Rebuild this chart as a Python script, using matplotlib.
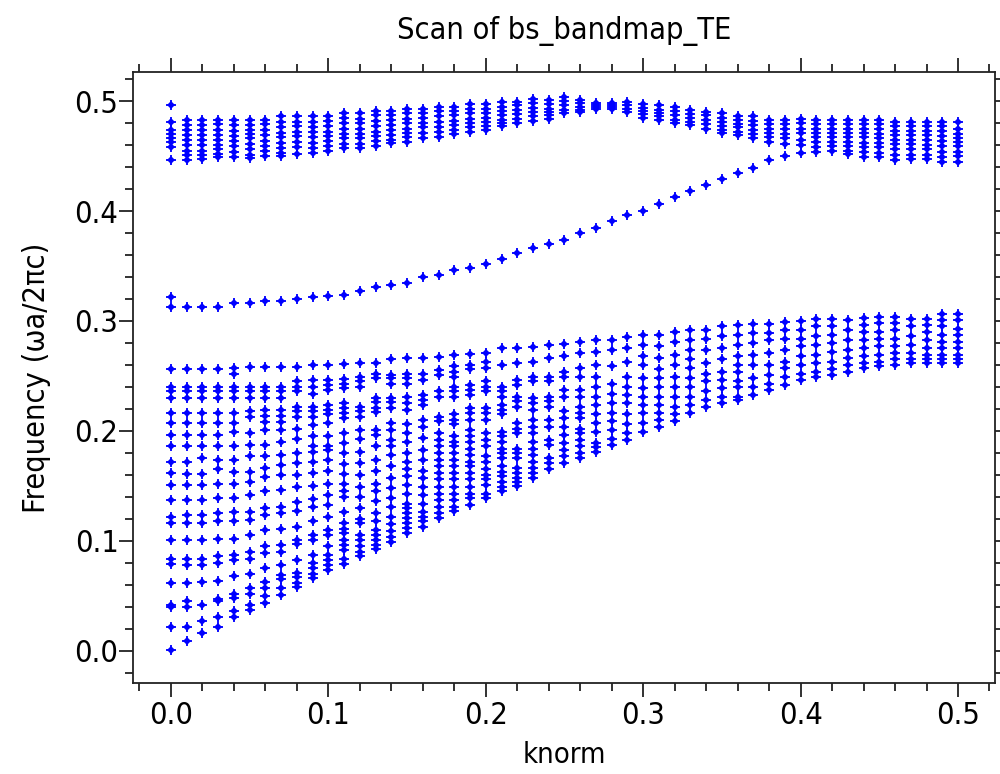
import numpy as np
import matplotlib
matplotlib.use('Agg')
import matplotlib.pyplot as plt
from matplotlib.ticker import MultipleLocator

plt.rcParams['font.family'] = ['DejaVu Sans']
plt.rcParams['font.stretch'] = 'condensed'

# k points of the scan (one column of eigenfrequencies per k)
knorm = np.linspace(0.0, 0.5, 51)

# lower (fan-shaped) band, one list per k column
lower_band = [
    [0.256, 0.240, 0.236, 0.230, 0.216, 0.207, 0.196, 0.186, 0.172, 0.162, 0.151, 0.137, 0.122, 0.116, 0.101, 0.084, 0.079, 0.062, 0.042, 0.040, 0.022, 0.001],
    [0.256, 0.240, 0.236, 0.230, 0.216, 0.207, 0.196, 0.186, 0.172, 0.161, 0.151, 0.137, 0.124, 0.116, 0.101, 0.084, 0.078, 0.062, 0.045, 0.040, 0.022, 0.009],
    [0.256, 0.240, 0.236, 0.230, 0.216, 0.207, 0.196, 0.186, 0.175, 0.161, 0.151, 0.137, 0.124, 0.116, 0.101, 0.084, 0.078, 0.063, 0.042, 0.027, 0.016],
    [0.256, 0.240, 0.236, 0.230, 0.216, 0.207, 0.196, 0.186, 0.174, 0.165, 0.152, 0.139, 0.125, 0.118, 0.102, 0.086, 0.080, 0.064, 0.047, 0.045, 0.031, 0.022],
    [0.257, 0.252, 0.240, 0.236, 0.230, 0.216, 0.207, 0.199, 0.186, 0.174, 0.163, 0.152, 0.139, 0.126, 0.118, 0.102, 0.087, 0.083, 0.068, 0.052, 0.048, 0.036, 0.031],
    [0.258, 0.240, 0.236, 0.230, 0.218, 0.213, 0.198, 0.187, 0.177, 0.163, 0.154, 0.142, 0.126, 0.119, 0.105, 0.090, 0.084, 0.070, 0.057, 0.052, 0.042, 0.037],
    [0.258, 0.240, 0.236, 0.230, 0.219, 0.214, 0.208, 0.201, 0.187, 0.177, 0.166, 0.158, 0.145, 0.130, 0.124, 0.110, 0.095, 0.089, 0.075, 0.063, 0.057, 0.050, 0.044],
    [0.258, 0.240, 0.236, 0.230, 0.219, 0.214, 0.208, 0.201, 0.190, 0.178, 0.169, 0.160, 0.146, 0.131, 0.125, 0.111, 0.096, 0.090, 0.078, 0.069, 0.065, 0.057, 0.051],
    [0.258, 0.245, 0.240, 0.236, 0.222, 0.218, 0.213, 0.202, 0.193, 0.180, 0.171, 0.160, 0.149, 0.135, 0.127, 0.113, 0.101, 0.097, 0.083, 0.071, 0.067, 0.062, 0.058],
    [0.260, 0.246, 0.240, 0.234, 0.222, 0.218, 0.213, 0.205, 0.195, 0.186, 0.181, 0.172, 0.162, 0.150, 0.138, 0.131, 0.118, 0.105, 0.101, 0.087, 0.080, 0.075, 0.070, 0.066],
    [0.260, 0.246, 0.242, 0.237, 0.224, 0.219, 0.215, 0.207, 0.195, 0.186, 0.183, 0.174, 0.164, 0.152, 0.142, 0.133, 0.122, 0.110, 0.105, 0.095, 0.087, 0.083, 0.078, 0.074],
    [0.261, 0.247, 0.243, 0.239, 0.225, 0.221, 0.216, 0.212, 0.198, 0.189, 0.180, 0.170, 0.161, 0.152, 0.145, 0.140, 0.126, 0.116, 0.111, 0.107, 0.101, 0.096, 0.092, 0.084, 0.079],
    [0.262, 0.249, 0.245, 0.240, 0.222, 0.218, 0.213, 0.201, 0.193, 0.181, 0.171, 0.160, 0.149, 0.140, 0.130, 0.120, 0.116, 0.105, 0.101, 0.095, 0.090, 0.086],
    [0.262, 0.252, 0.248, 0.230, 0.226, 0.221, 0.217, 0.201, 0.196, 0.186, 0.174, 0.164, 0.152, 0.145, 0.136, 0.125, 0.118, 0.110, 0.105, 0.101, 0.096, 0.093],
    [0.265, 0.251, 0.248, 0.243, 0.230, 0.226, 0.221, 0.207, 0.201, 0.192, 0.186, 0.178, 0.168, 0.157, 0.148, 0.139, 0.131, 0.122, 0.115, 0.109, 0.104, 0.099],
    [0.266, 0.252, 0.248, 0.243, 0.231, 0.225, 0.219, 0.206, 0.198, 0.190, 0.180, 0.172, 0.165, 0.159, 0.151, 0.143, 0.134, 0.130, 0.125, 0.121, 0.116, 0.112, 0.107],
    [0.266, 0.252, 0.246, 0.233, 0.228, 0.224, 0.210, 0.204, 0.194, 0.183, 0.174, 0.164, 0.157, 0.149, 0.142, 0.134, 0.126, 0.122, 0.118, 0.113],
    [0.267, 0.255, 0.251, 0.236, 0.231, 0.213, 0.209, 0.198, 0.192, 0.186, 0.180, 0.174, 0.168, 0.162, 0.156, 0.149, 0.143, 0.137, 0.131, 0.125, 0.121],
    [0.269, 0.259, 0.254, 0.249, 0.240, 0.236, 0.231, 0.215, 0.210, 0.206, 0.195, 0.190, 0.186, 0.180, 0.174, 0.168, 0.162, 0.156, 0.149, 0.143, 0.137, 0.131, 0.127],
    [0.270, 0.260, 0.256, 0.242, 0.237, 0.233, 0.221, 0.216, 0.210, 0.201, 0.195, 0.190, 0.184, 0.178, 0.172, 0.168, 0.162, 0.156, 0.149, 0.143, 0.139, 0.133],
    [0.271, 0.263, 0.257, 0.245, 0.240, 0.236, 0.221, 0.216, 0.210, 0.198, 0.192, 0.186, 0.177, 0.172, 0.165, 0.160, 0.156, 0.151, 0.143, 0.139],
    [0.275, 0.260, 0.240, 0.236, 0.231, 0.224, 0.219, 0.215, 0.199, 0.195, 0.190, 0.184, 0.180, 0.175, 0.168, 0.163, 0.159, 0.154, 0.149, 0.145],
    [0.275, 0.262, 0.246, 0.242, 0.231, 0.227, 0.222, 0.207, 0.202, 0.198, 0.184, 0.180, 0.175, 0.166, 0.162, 0.157, 0.154, 0.150],
    [0.276, 0.263, 0.249, 0.245, 0.230, 0.225, 0.219, 0.210, 0.204, 0.198, 0.190, 0.184, 0.178, 0.172, 0.166, 0.162, 0.157],
    [0.278, 0.266, 0.249, 0.245, 0.231, 0.227, 0.222, 0.210, 0.204, 0.192, 0.187, 0.175, 0.171, 0.165],
    [0.279, 0.268, 0.254, 0.249, 0.237, 0.231, 0.218, 0.212, 0.204, 0.196, 0.189, 0.183, 0.177, 0.171],
    [0.281, 0.271, 0.257, 0.249, 0.237, 0.231, 0.222, 0.216, 0.212, 0.202, 0.198, 0.192, 0.186, 0.180, 0.175],
    [0.283, 0.272, 0.260, 0.249, 0.240, 0.231, 0.224, 0.215, 0.207, 0.199, 0.189, 0.185, 0.181],
    [0.283, 0.274, 0.259, 0.243, 0.234, 0.225, 0.216, 0.209, 0.201, 0.193, 0.187],
    [0.285, 0.275, 0.263, 0.249, 0.240, 0.233, 0.225, 0.215, 0.206, 0.198, 0.192],
    [0.287, 0.278, 0.268, 0.260, 0.248, 0.239, 0.231, 0.224, 0.216, 0.207, 0.199],
    [0.287, 0.277, 0.266, 0.256, 0.248, 0.240, 0.231, 0.224, 0.216, 0.210, 0.204],
    [0.290, 0.281, 0.269, 0.260, 0.249, 0.240, 0.231, 0.222, 0.215, 0.209],
    [0.292, 0.283, 0.274, 0.265, 0.257, 0.248, 0.240, 0.231, 0.224, 0.216],
    [0.292, 0.284, 0.274, 0.262, 0.252, 0.245, 0.236, 0.228, 0.222],
    [0.295, 0.286, 0.275, 0.265, 0.254, 0.246, 0.239, 0.231, 0.225],
    [0.296, 0.287, 0.278, 0.268, 0.260, 0.254, 0.245, 0.240, 0.231, 0.228],
    [0.297, 0.289, 0.280, 0.269, 0.260, 0.248, 0.240, 0.233],
    [0.297, 0.289, 0.283, 0.271, 0.260, 0.251, 0.243, 0.237],
    [0.299, 0.292, 0.284, 0.274, 0.263, 0.257, 0.249, 0.242],
    [0.300, 0.292, 0.284, 0.277, 0.268, 0.260, 0.252, 0.246],
    [0.302, 0.295, 0.286, 0.278, 0.269, 0.262, 0.254, 0.249],
    [0.302, 0.295, 0.287, 0.280, 0.272, 0.263, 0.256, 0.251],
    [0.301, 0.292, 0.283, 0.274, 0.266, 0.260, 0.254],
    [0.303, 0.296, 0.290, 0.283, 0.275, 0.268, 0.262, 0.257],
    [0.304, 0.298, 0.290, 0.284, 0.277, 0.269, 0.263, 0.259],
    [0.304, 0.298, 0.292, 0.284, 0.277, 0.271, 0.265, 0.260],
    [0.302, 0.295, 0.286, 0.278, 0.271, 0.265, 0.262],
    [0.302, 0.296, 0.290, 0.283, 0.275, 0.269, 0.265, 0.262],
    [0.306, 0.301, 0.295, 0.287, 0.281, 0.275, 0.269, 0.265, 0.262],
    [0.306, 0.301, 0.293, 0.287, 0.281, 0.275, 0.269, 0.265, 0.262],
]

# single band rising through the gap
defect_k = [0.00, 0.00, 0.01, 0.02, 0.03, 0.04, 0.05, 0.06, 0.07, 0.08, 0.09, 0.10,
            0.11, 0.12, 0.13, 0.14, 0.15, 0.16, 0.17, 0.18, 0.19, 0.20, 0.21, 0.22,
            0.23, 0.24, 0.25, 0.26, 0.27, 0.28, 0.29, 0.30, 0.31, 0.32, 0.33, 0.34,
            0.35, 0.36, 0.37, 0.38, 0.39, 0.40]
defect_f = [0.322, 0.313, 0.313, 0.313, 0.313, 0.316, 0.316, 0.318, 0.318, 0.320, 0.322, 0.323,
            0.324, 0.327, 0.331, 0.333, 0.335, 0.340, 0.342, 0.346, 0.348, 0.352, 0.356, 0.362,
            0.366, 0.370, 0.374, 0.380, 0.385, 0.391, 0.396, 0.400, 0.406, 0.413, 0.418, 0.424,
            0.429, 0.435, 0.439, 0.446, 0.450, 0.453]

# upper band, one list per k column
upper_band = [
    [0.496, 0.481, 0.474, 0.470, 0.466, 0.463, 0.458, 0.446],
    [0.483, 0.478, 0.474, 0.469, 0.465, 0.460, 0.455, 0.451, 0.446],
    [0.483, 0.478, 0.474, 0.469, 0.465, 0.460, 0.455, 0.451, 0.447],
    [0.483, 0.479, 0.474, 0.469, 0.465, 0.460, 0.456, 0.452, 0.449],
    [0.483, 0.478, 0.473, 0.468, 0.464, 0.459, 0.454, 0.449],
    [0.483, 0.478, 0.474, 0.470, 0.466, 0.461, 0.456, 0.451, 0.448],
    [0.483, 0.479, 0.474, 0.469, 0.464, 0.459, 0.455, 0.450],
    [0.486, 0.481, 0.476, 0.471, 0.467, 0.462, 0.457, 0.453, 0.450],
    [0.486, 0.481, 0.477, 0.472, 0.468, 0.463, 0.458, 0.452],
    [0.486, 0.481, 0.476, 0.472, 0.467, 0.462, 0.457, 0.453],
    [0.486, 0.482, 0.477, 0.472, 0.468, 0.464, 0.459, 0.455],
    [0.489, 0.485, 0.480, 0.475, 0.470, 0.466, 0.461, 0.457],
    [0.489, 0.484, 0.480, 0.475, 0.470, 0.466, 0.461, 0.457],
    [0.491, 0.487, 0.482, 0.477, 0.472, 0.468, 0.464, 0.459],
    [0.491, 0.487, 0.483, 0.478, 0.474, 0.469, 0.465, 0.462],
    [0.493, 0.489, 0.484, 0.480, 0.475, 0.471, 0.467, 0.463],
    [0.493, 0.489, 0.485, 0.480, 0.476, 0.471, 0.466],
    [0.495, 0.491, 0.486, 0.481, 0.476, 0.472, 0.467],
    [0.495, 0.491, 0.487, 0.482, 0.478, 0.474, 0.470],
    [0.497, 0.493, 0.489, 0.484, 0.480, 0.476, 0.472],
    [0.497, 0.493, 0.489, 0.485, 0.481, 0.477, 0.474],
    [0.499, 0.495, 0.491, 0.487, 0.483, 0.480, 0.477],
    [0.499, 0.496, 0.492, 0.488, 0.484, 0.480],
    [0.502, 0.498, 0.494, 0.490, 0.486, 0.482],
    [0.501, 0.497, 0.493, 0.490, 0.487, 0.484],
    [0.504, 0.500, 0.496, 0.492, 0.489],
    [0.501, 0.498, 0.495, 0.492, 0.490],
    [0.498, 0.496, 0.495, 0.493],
    [0.498, 0.496, 0.495, 0.493],
    [0.499, 0.496, 0.493, 0.490],
    [0.497, 0.494, 0.491, 0.488, 0.485],
    [0.496, 0.492, 0.489, 0.486, 0.483],
    [0.495, 0.491, 0.487, 0.483, 0.480],
    [0.492, 0.488, 0.485, 0.481, 0.478],
    [0.490, 0.487, 0.483, 0.479, 0.475],
    [0.489, 0.485, 0.481, 0.477, 0.474, 0.471],
    [0.486, 0.483, 0.479, 0.476, 0.472, 0.469],
    [0.486, 0.482, 0.478, 0.474, 0.470, 0.466],
    [0.483, 0.479, 0.475, 0.471, 0.467, 0.463],
    [0.483, 0.479, 0.475, 0.470, 0.466, 0.461],
    [0.484, 0.480, 0.475, 0.471, 0.465, 0.460],
    [0.483, 0.479, 0.475, 0.471, 0.467, 0.463, 0.458, 0.454],
    [0.483, 0.479, 0.475, 0.471, 0.467, 0.463, 0.459, 0.455],
    [0.483, 0.479, 0.475, 0.471, 0.467, 0.463, 0.459, 0.455, 0.452],
    [0.483, 0.479, 0.475, 0.471, 0.467, 0.462, 0.458, 0.454, 0.449],
    [0.483, 0.479, 0.475, 0.470, 0.466, 0.462, 0.458, 0.453, 0.449],
    [0.481, 0.477, 0.473, 0.469, 0.465, 0.461, 0.456, 0.451, 0.446],
    [0.481, 0.477, 0.473, 0.469, 0.465, 0.461, 0.456, 0.451, 0.447],
    [0.481, 0.477, 0.473, 0.469, 0.465, 0.460, 0.456, 0.451, 0.447],
    [0.481, 0.477, 0.473, 0.468, 0.464, 0.459, 0.454, 0.449, 0.445],
    [0.481, 0.475, 0.470, 0.466, 0.463, 0.459, 0.454, 0.450, 0.445],
]

# flatten the columns into x/y point lists
xs, ys = [], []
for k, lo, up in zip(knorm, lower_band, upper_band):
    for f in lo + up:
        xs.append(k)
        ys.append(f)
xs += defect_k
ys += defect_f

fig = plt.figure(figsize=(10, 7.74), dpi=100)
ax = fig.add_axes([0.133, 0.1176, 0.862, 0.7894])

# blob + cross, like the original point glyph
ax.plot(xs, ys, linestyle='none', marker='D', markersize=4.2,
        color='#0000ff', markeredgewidth=0)
ax.plot(xs, ys, linestyle='none', marker='+', markersize=7.5,
        color='#0000ff', markeredgewidth=1.3)

ax.set_xlim(-0.0241, 0.5235)
ax.set_ylim(-0.0291, 0.5264)

ax.xaxis.set_major_locator(MultipleLocator(0.1))
ax.xaxis.set_minor_locator(MultipleLocator(0.02))
ax.yaxis.set_major_locator(MultipleLocator(0.1))
ax.yaxis.set_minor_locator(MultipleLocator(0.02))
ax.xaxis.set_major_formatter(plt.FormatStrFormatter('%.1f'))
ax.yaxis.set_major_formatter(plt.FormatStrFormatter('%.1f'))

ax.tick_params(which='both', direction='out', top=True, right=True,
               labeltop=False, labelright=False, width=1.3, color='#222222')
ax.tick_params(which='major', length=10, labelsize=22, pad=3)
ax.tick_params(which='minor', length=6)
ax.tick_params(axis='y', which='major', pad=0.5)
for s in ax.spines.values():
    s.set_linewidth(1.3)
    s.set_color('#222222')

ax.set_title('Scan of bs_bandmap_TE', fontsize=22, pad=24)
ax.set_xlabel('knorm', fontsize=21, labelpad=8)
ax.set_ylabel('Frequency (ωa/2πc)', fontsize=22, labelpad=17)

fig.savefig('out.png', dpi=100)
